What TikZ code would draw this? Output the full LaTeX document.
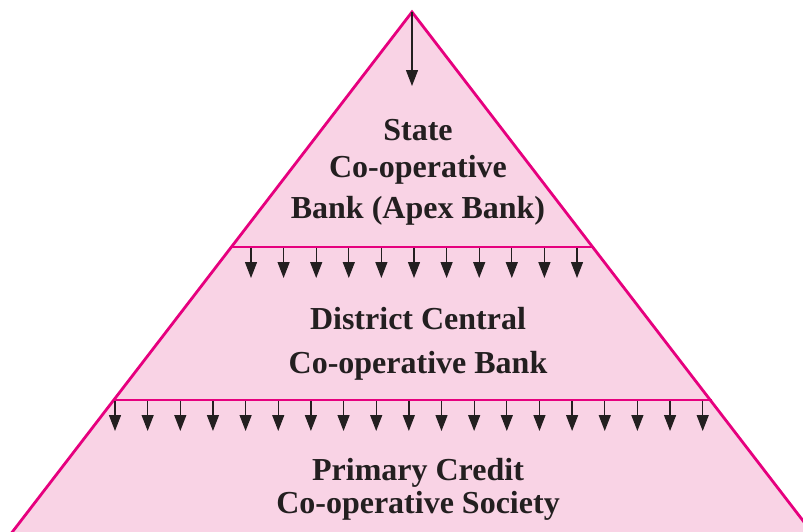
\documentclass[tikz,border=0pt]{standalone}
\usepackage{fontspec}
\setmainfont{Liberation Serif}
\usetikzlibrary{arrows.meta}
\definecolor{pyrfill}{HTML}{F9D3E5}
\definecolor{pyrline}{HTML}{E6007E}
\definecolor{ink}{HTML}{231F20}
\tikzset{
  flow/.style={draw=ink, line width=1.3pt, -{Triangle[length=16pt,width=12pt]}},
  tier/.style={draw=pyrline, line width=2.8pt},
  label/.style={text=ink, font=\fontsize{32}{40}\selectfont\bfseries, inner sep=0pt, anchor=base}
}
\begin{document}
\begin{tikzpicture}[x=1pt,y=-1pt]
\useasboundingbox (0,0) rectangle (803,531);
\begin{scope}
\clip (0,0) rectangle (803,531);
\coordinate (apex) at (412,12);
\coordinate (bl) at (10,535);
\coordinate (br) at (814,535);
\fill[pyrfill] (apex) -- (bl) -- (br) -- cycle;
\draw[tier, line join=miter] (bl) -- (apex) -- (br);
\end{scope}
\coordinate (l1) at (232,247);
\coordinate (r1) at (594,247);
\coordinate (l2) at (113,400);
\coordinate (r2) at (712,400);
\draw[tier] (l1) -- (r1);
\draw[tier] (l2) -- (r2);
\coordinate (apexend) at (412,86);
\draw[flow] (apex) -- (apexend);
\foreach \i in {0,...,10}{
  \coordinate (a\i) at ({251+32.6*\i},248);
  \coordinate (b\i) at ({251+32.6*\i},278);
  \draw[flow] (a\i) -- (b\i);
}
\foreach \i in {0,...,18}{
  \coordinate (c\i) at ({115+32.65*\i},401);
  \coordinate (d\i) at ({115+32.65*\i},431);
  \draw[flow] (c\i) -- (d\i);
}
\node[label] (state1) at (418,140) {State};
\node[label] (state2) at (418,177) {Co-operative};
\node[label] (state3) at (418,218) {Bank (Apex Bank)};
\node[label] (dccb1) at (418,329) {District Central};
\node[label] (dccb2) at (418,373) {Co-operative Bank};
\node[label] (pacs1) at (418,480) {Primary Credit};
\node[label] (pacs2) at (418,513) {Co-operative Society};
\end{tikzpicture}
\end{document}
